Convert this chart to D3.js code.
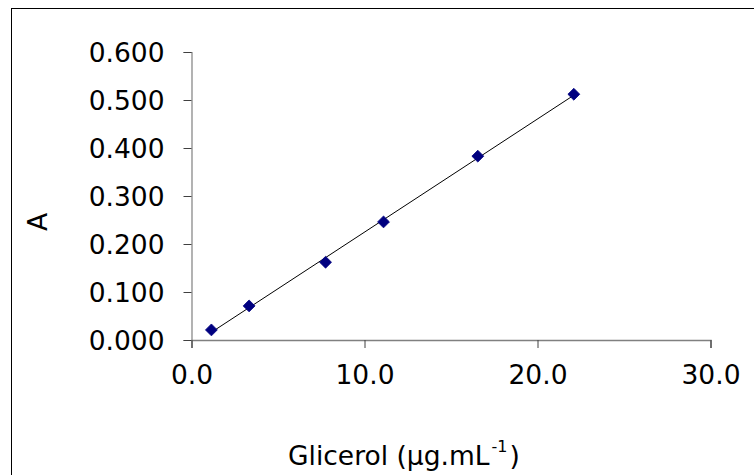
<!DOCTYPE html>
<html>
<head>
<meta charset="utf-8">
<script src="https://cdn.jsdelivr.net/npm/d3@7"></script>
<style>
  html, body { margin: 0; padding: 0; background: #fff; }
  svg { display: block; }
  text { font-family: "DejaVu Sans", Verdana, sans-serif; fill: #000; }
</style>
</head>
<body>
<svg id="chart" width="754" height="475"></svg>
<script>
// Calibration data: glycerol concentration vs absorbance
const glycerol = [1.15, 3.33, 7.75, 11.1, 16.55, 22.1];
const absorbance = [0.021, 0.071, 0.162, 0.246, 0.383, 0.512];
const xTicks = [0, 10, 20, 30];
const yTicks = [0, 0.1, 0.2, 0.3, 0.4, 0.5, 0.6];

const svg = d3.select("#chart");
const FONT = 26.5;

// Chart frame
svg.append("rect")
  .attr("x", 11.5).attr("y", 8.5)
  .attr("width", 760).attr("height", 480)
  .attr("fill", "#fff").attr("stroke", "#000").attr("stroke-width", 1);

const x = d3.scaleLinear().domain([0, 30]).range([191.5, 710.5]);
const y = d3.scaleLinear().domain([0, 0.6]).range([340, 52]);

// Y axis
const yAxis = svg.append("g")
  .attr("transform", `translate(${x(0)},0)`)
  .call(d3.axisLeft(y).tickValues(yTicks).tickFormat(d3.format(".3f")).tickSize(8).tickPadding(19));
yAxis.select(".domain").attr("stroke", "#808080").attr("stroke-width", 1.2);
yAxis.selectAll(".tick line").attr("stroke", "#404040");
yAxis.selectAll(".tick text").attr("font-size", FONT).attr("font-family", "DejaVu Sans, Verdana, sans-serif").attr("dy", "0.36em");

// X axis
const xAxis = svg.append("g")
  .attr("transform", `translate(0,${y(0)})`)
  .call(d3.axisBottom(x).tickValues(xTicks).tickFormat(d3.format(".1f")).tickSize(8).tickPadding(17));
xAxis.select(".domain").attr("stroke", "#808080").attr("stroke-width", 1.5);
xAxis.selectAll(".tick line").attr("stroke", "#404040");
xAxis.selectAll(".tick text").attr("font-size", FONT).attr("font-family", "DejaVu Sans, Verdana, sans-serif");

// Axis titles
svg.append("text")
  .attr("transform", "translate(47,222) rotate(-90)")
  .attr("text-anchor", "middle")
  .attr("font-size", FONT)
  .text("A");

const xt = svg.append("text")
  .attr("x", 288).attr("y", 465)
  .attr("font-size", FONT);
xt.append("tspan").text("Glicerol (µg.mL");
xt.append("tspan").attr("font-size", 16).attr("dy", -13).attr("dx", 2).text("-1");
xt.append("tspan").attr("dy", 13).attr("dx", 2).text(")");

// Linear trendline (least squares over the data range)
const n = glycerol.length;
const mx = d3.mean(glycerol), my = d3.mean(absorbance);
let sxy = 0, sxx = 0;
for (let i = 0; i < n; i++) {
  sxy += (glycerol[i] - mx) * (absorbance[i] - my);
  sxx += (glycerol[i] - mx) ** 2;
}
const slope = sxy / sxx, intercept = my - slope * mx;
const x0 = d3.min(glycerol), x1 = d3.max(glycerol);
svg.append("line")
  .attr("x1", x(x0)).attr("y1", y(slope * x0 + intercept))
  .attr("x2", x(x1)).attr("y2", y(slope * x1 + intercept))
  .attr("stroke", "#000").attr("stroke-width", 1);

// Diamond markers
const diamond = d3.symbol().type(d3.symbolDiamond2).size(90);
svg.append("g").selectAll("path")
  .data(d3.zip(glycerol, absorbance))
  .join("path")
  .attr("d", diamond)
  .attr("transform", d => `translate(${x(d[0])},${y(d[1])})`)
  .attr("fill", "#000080")
  .attr("stroke", "#000080")
  .attr("stroke-width", 0.8);
</script>
</body>
</html>
